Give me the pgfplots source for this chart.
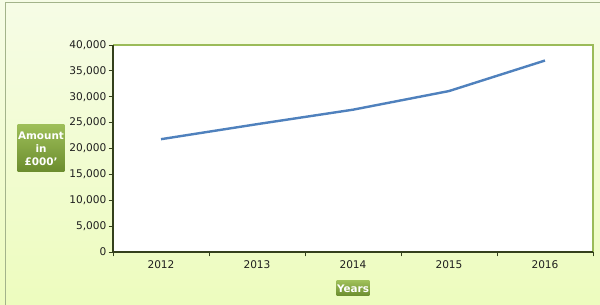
\documentclass[border=0pt]{standalone}
\usepackage{pgfplots}
\pgfplotsset{compat=1.18}
\usepackage{fontspec}
\setmainfont{DejaVu Sans}
\definecolor{bgtop}{HTML}{F6FCE6}
\definecolor{bgbot}{HTML}{EDFCBE}
\definecolor{framec}{HTML}{A3B38A}
\definecolor{axgreen}{HTML}{9BBB59}
\definecolor{axdark}{HTML}{34401C}
\definecolor{lineblue}{HTML}{4F81BD}
\definecolor{boxtop}{HTML}{9DBE58}
\definecolor{boxbot}{HTML}{6B8C2E}
\begin{document}
\begin{tikzpicture}[x=1pt,y=1pt]
\useasboundingbox (0,0) rectangle (600,305);
\shade[top color=bgtop,bottom color=bgbot] (0,0) rectangle (600,305);
\draw[framec,line width=1pt] (5,0) -- (5,302) -- (600,302);
\begin{axis}[
  at={(113pt,53pt)}, anchor=south west,
  scale only axis, width=480pt, height=207pt,
  xmin=-0.5, xmax=4.5, ymin=0, ymax=40000,
  axis line style={draw=none},
  xtick pos=bottom, ytick pos=left,
  xtick={0,1,2,3,4},
  xticklabels={2012,2013,2014,2015,2016},
  minor xtick={-0.5,0.5,1.5,2.5,3.5,4.5},
  ytick={0,5000,10000,15000,20000,25000,30000,35000,40000},
  tick align=outside,
  major tick length=4.5pt, minor tick length=4.5pt,
  tick style={draw=axdark,line width=0.9pt},
  major x tick style={draw=none},
  /pgf/number format/1000 sep={,},
  /pgf/number format/fixed,
  /pgf/number format/assume math mode=true,
  ticklabel style={font=\fontsize{10.6}{12}\selectfont, text=black!88},
  xticklabel style={yshift=-1pt},
  yticklabel style={xshift=1.5pt},
  scaled y ticks=false,
  clip=false,
  axis background/.style={fill=white},
]
\addplot[lineblue, line width=2.4pt] coordinates {
  (0,21800) (1,24700) (2,27500) (3,31100) (4,37000)
};
\draw[axgreen,line width=2.5pt] (rel axis cs:0,1) -- (rel axis cs:1,1) -- (rel axis cs:1,0);
\draw[axdark,line width=1.3pt] (rel axis cs:0,1) -- (rel axis cs:0,0) -- (rel axis cs:1,0);
\end{axis}
\node[top color=boxtop,bottom color=boxbot,text=white,font=\bfseries\fontsize{10.4}{13}\selectfont,align=center,minimum width=46pt,minimum height=47pt,inner sep=0.5pt] at (41,156.5) {Amount\\in\\£000'};
\node[top color=boxtop,bottom color=boxbot,text=white,font=\bfseries\fontsize{10.4}{11}\selectfont,minimum width=30pt,minimum height=15pt,inner sep=0.5pt] at (353,16.5) {Years};
\end{tikzpicture}
\end{document}
